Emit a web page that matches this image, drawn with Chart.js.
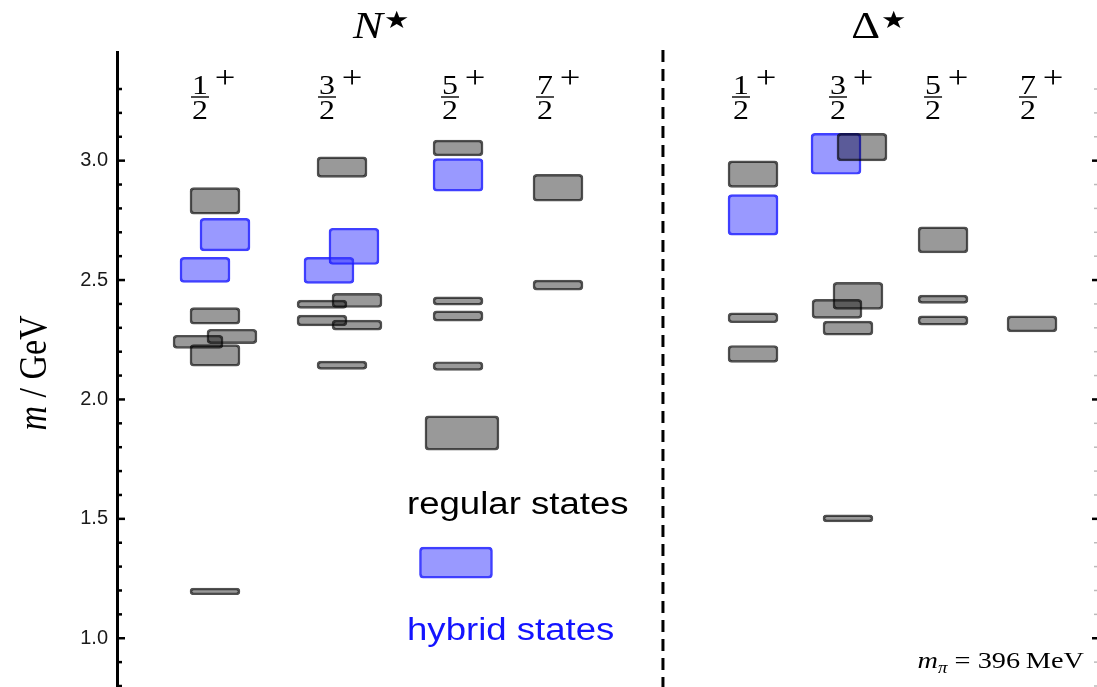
<!DOCTYPE html>
<html>
<head>
<meta charset="utf-8">
<script src="https://cdn.jsdelivr.net/npm/chart.js@4.4.0/dist/chart.umd.min.js"></script>
<style>
  html, body { margin: 0; padding: 0; background: #fff; }
  canvas { display: block; }
</style>
</head>
<body>
<canvas id="spectrum" width="1097" height="687"></canvas>
<script>
// x axis runs 0..10 (arbitrary column units), y axis is mass in GeV

// spin-parity column labels (numerator over 2, with a + superscript)
const spinNumerators = ['1', '3', '5', '7'];
const nStarLabelX = [0.847, 2.143, 3.398, 4.367];
const deltaLabelX = [6.367, 7.357, 8.327, 9.296];

const headings = ['N', 'Δ'];
const headingX = [2.714, 7.786];
const dividerX = 5.571;

// levels: [x, m_low, m_high]
const nStarRegular = [
    [1.0, 2.776, 2.887], [1.0, 2.315, 2.385], [0.827, 2.214, 2.269], [1.173, 2.234, 2.294],
    [1.0, 2.139, 2.230], [1.0, 1.182, 1.210],
    [2.296, 2.930, 3.016], [2.092, 2.381, 2.416], [2.449, 2.385, 2.444], [2.092, 2.308, 2.353],
    [2.449, 2.290, 2.332], [2.296, 2.126, 2.161],
    [3.48, 3.020, 3.086], [3.48, 2.395, 2.430], [3.48, 2.328, 2.371], [3.48, 2.122, 2.158],
    [4.5, 2.830, 2.943], [4.5, 2.458, 2.500]
];
const nStarRegularWide = [[3.52, 1.788, 1.931]];
const nStarHybrid = [
    [1.102, 2.622, 2.758], [0.898, 2.490, 2.595],
    [2.163, 2.486, 2.595], [2.418, 2.565, 2.717],
    [3.48, 2.872, 3.009]
];
const deltaRegular = [
    [6.49, 2.888, 2.999], [6.49, 2.321, 2.363], [6.49, 2.155, 2.226],
    [7.602, 2.999, 3.114], [7.561, 2.377, 2.490], [7.347, 2.339, 2.419], [7.459, 2.269, 2.328],
    [7.459, 1.487, 1.517],
    [8.429, 2.614, 2.723], [8.429, 2.402, 2.437], [8.429, 2.311, 2.350],
    [9.337, 2.283, 2.350]
];
const deltaHybrid = [[6.49, 2.688, 2.858], [7.337, 2.943, 3.114]];
const legendHybrid = [[3.459, 1.252, 1.382]];

const toBars = rows => rows.map(([x, lo, hi]) => ({ x: x, y: [lo, hi] }));

const GRAY_FILL = 'rgba(0,0,0,0.4)';
const GRAY_EDGE = 'rgba(0,0,0,0.68)';
const BLUE_FILL = 'rgba(51,51,255,0.5)';
const BLUE_EDGE = 'rgba(30,30,255,0.85)';
const STRETCH = 1.18; // the picture is a bit wide

function barSet(label, rows, fill, edge, thickness) {
    return {
        label: label,
        data: toBars(rows),
        backgroundColor: fill,
        borderColor: edge,
        borderWidth: 1.8,
        borderRadius: 4,
        borderSkipped: false,
        barThickness: thickness,
        stack: 'all'
    };
}

function drawText(ctx, str, x, y, font, color, align) {
    ctx.save();
    ctx.translate(x, y);
    ctx.scale(STRETCH, 1);
    ctx.font = font;
    ctx.fillStyle = color;
    ctx.textAlign = align || 'left';
    ctx.textBaseline = 'alphabetic';
    ctx.fillText(str, 0, 0);
    ctx.restore();
}

const decorations = {
    id: 'decorations',
    beforeDatasetsDraw(chart) {
        const { ctx, chartArea, scales: { x } } = chart;
        const px = x.getPixelForValue(dividerX);
        ctx.save();
        ctx.strokeStyle = '#000';
        ctx.lineWidth = 3;
        ctx.setLineDash([12, 7]);
        ctx.beginPath();
        ctx.moveTo(px, chartArea.top - 2);
        ctx.lineTo(px, chartArea.bottom + 2);
        ctx.stroke();
        ctx.restore();
    },
    afterDraw(chart) {
        const { ctx, chartArea: area, scales: { x, y } } = chart;
        ctx.save();

        // inward tick marks, left axis black, right side faint
        y.ticks.forEach(t => {
            const tenth = Math.round(t.value * 10);
            if (Math.abs(t.value * 10 - tenth) > 1e-6) return;
            const major = tenth % 5 === 0;
            const py = y.getPixelForValue(t.value);
            ctx.strokeStyle = '#000';
            ctx.lineWidth = 2.5;
            ctx.beginPath();
            ctx.moveTo(area.left, py);
            ctx.lineTo(area.left + (major ? 8 : 5), py);
            ctx.stroke();
            ctx.strokeStyle = major ? '#000' : '#bbb';
            ctx.lineWidth = major ? 2.5 : 1.5;
            ctx.beginPath();
            ctx.moveTo(area.right, py);
            ctx.lineTo(area.right - (major ? 5 : 3), py);
            ctx.stroke();
        });

        // N* and Δ* headings
        headings.forEach((h, i) => {
            const px = x.getPixelForValue(headingX[i]);
            drawText(ctx, h, px, 38, (i === 0 ? 'italic ' : '') + '38px "Liberation Serif"', '#000', 'right');
            drawText(ctx, '★', px + 1, 28, '24px "DejaVu Sans"', '#000', 'left');
        });

        // J^P fractions
        const cols = nStarLabelX.concat(deltaLabelX);
        cols.forEach((cx, i) => {
            const px = x.getPixelForValue(cx);
            drawText(ctx, spinNumerators[i % 4], px, 94, '27px "Liberation Serif"', '#000', 'center');
            drawText(ctx, '2', px, 119, '27px "Liberation Serif"', '#000', 'center');
            ctx.strokeStyle = '#000';
            ctx.lineWidth = 1.4;
            ctx.beginPath();
            ctx.moveTo(px - 9, 97);
            ctx.lineTo(px + 9, 97);
            ctx.stroke();
            drawText(ctx, '+', px + 25, 88, '31px "Liberation Serif"', '#000', 'center');
        });

        // y axis title, rotated
        ctx.save();
        ctx.translate(46, 373);
        ctx.rotate(-Math.PI / 2);
        ctx.scale(1, 1.15);
        ctx.fillStyle = '#000';
        ctx.textBaseline = 'alphabetic';
        ctx.font = 'italic 34px "Liberation Serif"';
        const wm = ctx.measureText('m').width;
        ctx.font = '34px "Liberation Serif"';
        const wr = ctx.measureText(' / GeV').width;
        const start = -(wm + wr) / 2;
        ctx.font = 'italic 34px "Liberation Serif"';
        ctx.fillText('m', start, 0);
        ctx.font = '34px "Liberation Serif"';
        ctx.fillText(' / GeV', start + wm, 0);
        ctx.restore();

        // legend texts
        drawText(ctx, 'regular states', 407, 514, '31px "Liberation Sans"', '#000', 'left');
        drawText(ctx, 'hybrid states', 407, 640, '31px "Liberation Sans"', '#1414ff', 'left');

        // pion mass note, right aligned
        ctx.font = 'italic 24px "Liberation Serif"';
        const w1 = ctx.measureText('m').width;
        ctx.font = 'italic 16px "Liberation Serif"';
        const w2 = ctx.measureText('π').width;
        ctx.font = '24px "Liberation Serif"';
        const w3 = ctx.measureText(' = 396\u2009MeV').width;
        let left = 1084 - (w1 + w2 + w3) * STRETCH;
        drawText(ctx, 'm', left, 668, 'italic 24px "Liberation Serif"', '#000', 'left');
        left += w1 * STRETCH;
        drawText(ctx, 'π', left, 673, 'italic 16px "Liberation Serif"', '#000', 'left');
        left += w2 * STRETCH;
        drawText(ctx, ' = 396\u2009MeV', left, 668, '24px "Liberation Serif"', '#000', 'left');

        ctx.restore();
    }
};

const ctx = document.getElementById('spectrum').getContext('2d');
new Chart(ctx, {
    type: 'bar',
    data: {
        datasets: [
            barSet('regular states', nStarRegular.concat(deltaRegular), GRAY_FILL, GRAY_EDGE, 50),
            barSet('regular wide', nStarRegularWide, GRAY_FILL, GRAY_EDGE, 74),
            barSet('hybrid states', nStarHybrid.concat(deltaHybrid), BLUE_FILL, BLUE_EDGE, 50),
            barSet('hybrid legend', legendHybrid, BLUE_FILL, BLUE_EDGE, 73)
        ]
    },
    options: {
        responsive: false,
        devicePixelRatio: 1,
        animation: false,
        events: [],
        layout: { padding: { top: 52, right: 0, bottom: 1, left: 0 } },
        plugins: { legend: { display: false }, tooltip: { enabled: false } },
        scales: {
            x: {
                type: 'linear',
                min: 0,
                max: 10,
                offset: false,
                stacked: true,
                display: false,
                grid: { offset: false }
            },
            y: {
                type: 'linear',
                min: 0.8,
                max: 3.455,
                stacked: false,
                beginAtZero: false,
                grid: { display: false, drawTicks: false },
                border: { display: true, color: '#000', width: 3 },
                ticks: {
                    stepSize: 0.1,
                    autoSkip: false,
                    padding: 9,
                    color: '#1a1a1a',
                    font: { family: '"Liberation Sans"', size: 20 },
                    callback: v => {
                        const k = Math.round(v * 2);
                        return Math.abs(v * 2 - k) < 1e-6 ? (k / 2).toFixed(1) : '';
                    }
                },
                afterFit: axis => {
                    axis.width = 117;
                    axis.paddingTop = 0;
                    axis.paddingBottom = 0;
                }
            }
        }
    },
    plugins: [decorations]
});
</script>
</body>
</html>
